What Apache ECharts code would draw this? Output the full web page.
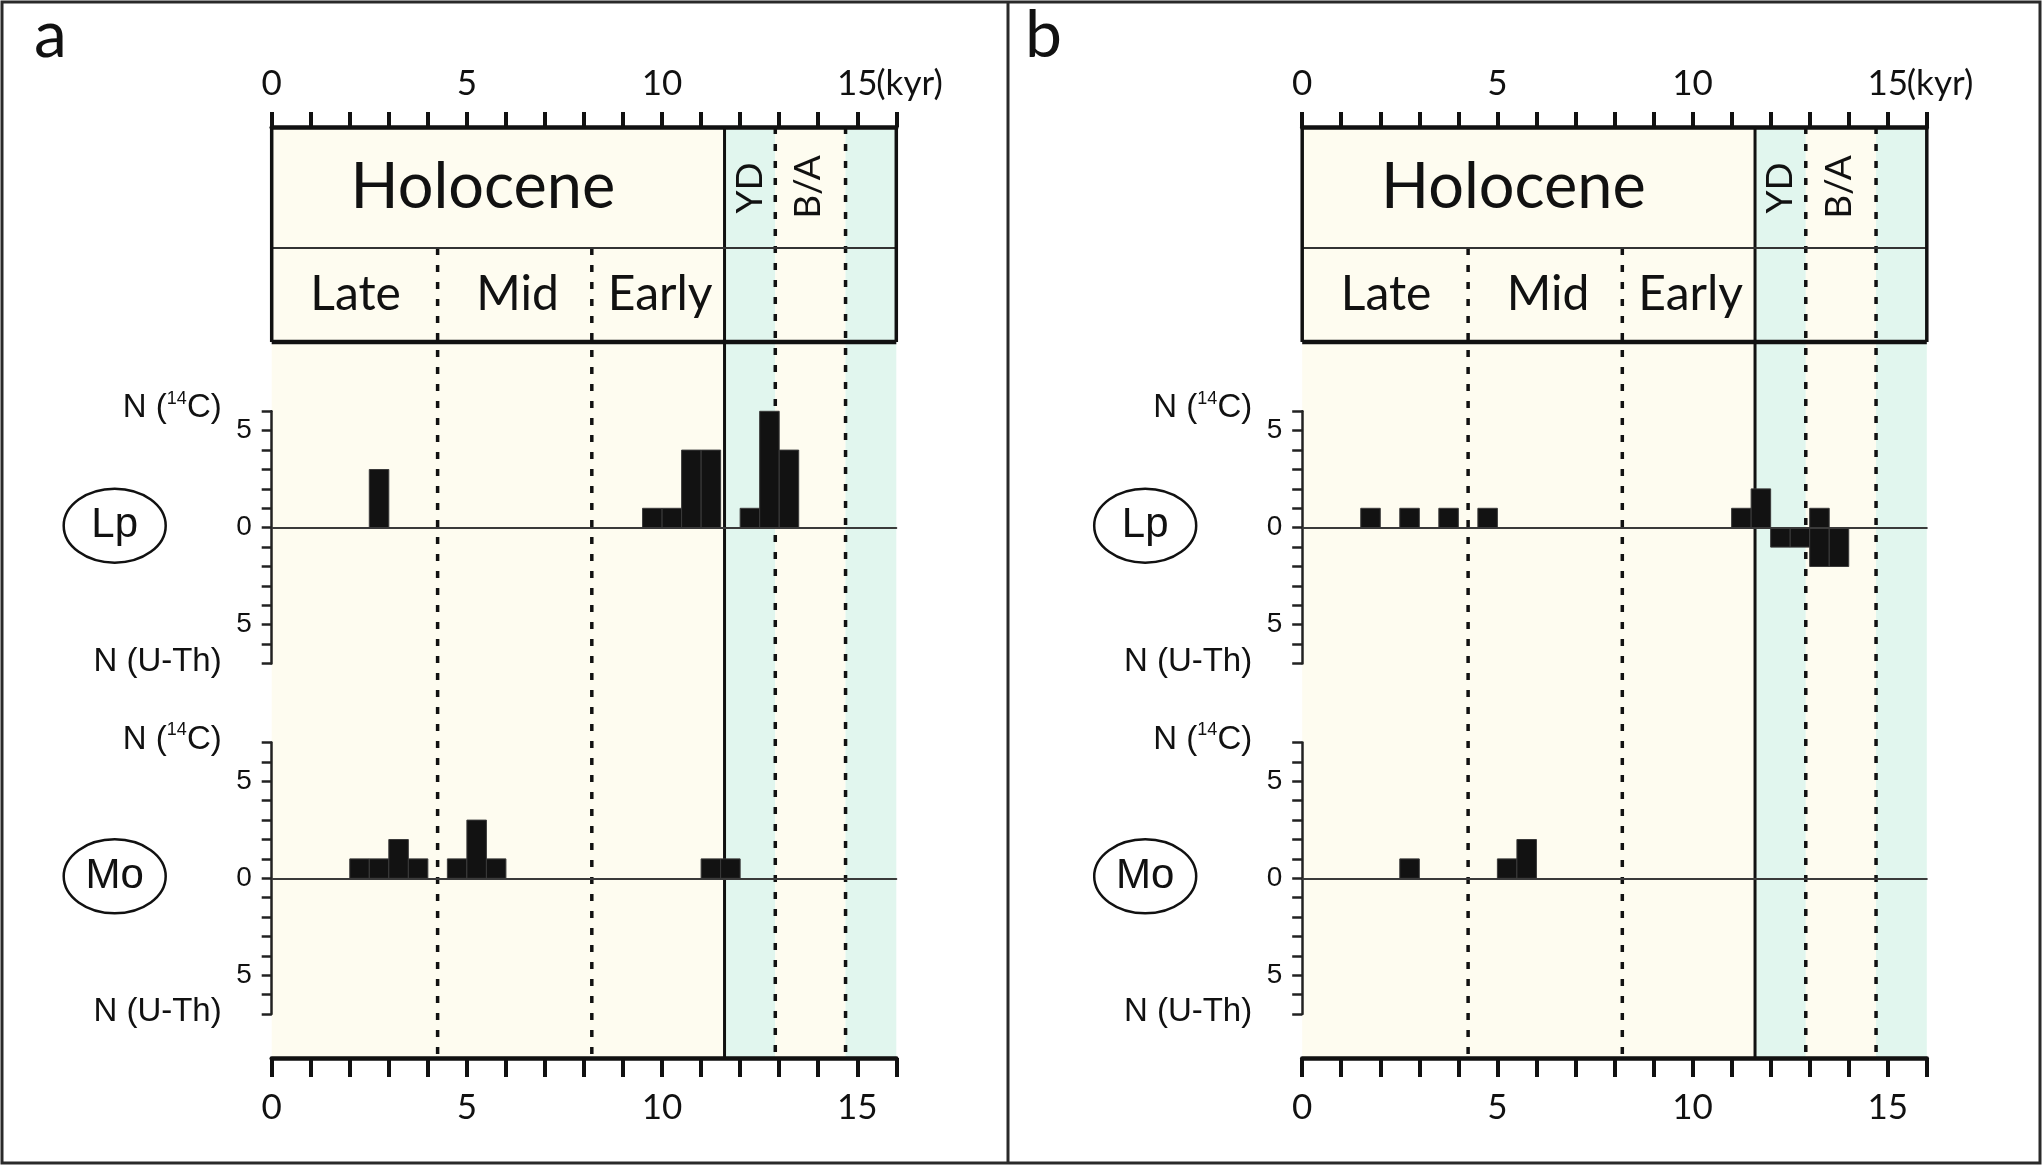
<!DOCTYPE html>
<html>
<head>
<meta charset="utf-8">
<script src="https://cdn.jsdelivr.net/npm/echarts@6/dist/echarts.min.js"></script>
<style>
  html, body { margin: 0; padding: 0; background: #fff; }
  #chart { width: 2044px; height: 1167px; }
</style>
</head>
<body>
<div id="chart"></div>
<script>
// time axis (kyr) and period boundaries
const kyrLabels = [0, 5, 10, 15]
const periodEdges = [0, 11.6, 12.9, 14.7, 16]
const periodKinds = ['cream', 'mint', 'cream', 'mint']
const subBoundaries = [4.25, 8.2]
const subLabels = ['Late', 'Mid', 'Early']
const subLabelAt = [2.15, 6.3, 9.95]
const binWidth = 0.5

// panel a : 0.5 kyr bins (bin start) and counts
const aLpC14Start = [2.5, 9.5, 10, 10.5, 11, 12, 12.5, 13]
const aLpC14Count = [3, 1, 1, 4, 4, 1, 6, 4]
const aLpUThStart = []
const aLpUThCount = []
const aMoC14Start = [2, 2.5, 3, 3.5, 4.5, 5, 5.5, 11, 11.5]
const aMoC14Count = [1, 1, 2, 1, 1, 3, 1, 1, 1]
const aMoUThStart = []
const aMoUThCount = []

// panel b
const bLpC14Start = [1.5, 2.5, 3.5, 4.5, 11, 11.5, 13]
const bLpC14Count = [1, 1, 1, 1, 1, 2, 1]
const bLpUThStart = [12, 12.5, 13, 13.5]
const bLpUThCount = [1, 1, 2, 2]
const bMoC14Start = [2.5, 5, 5.5]
const bMoC14Count = [1, 1, 2]
const bMoUThStart = []
const bMoUThCount = []

// y ranges of the two site rows
const siteNames = ['Lp', 'Mo']
const siteMin = [-7, -7]
const siteMax = [6, 7]

// layout
const PANEL_X = [271.7, 1302.2]
const PLOT_W = 624.6
const TOP_Y = 127
const FRAME_H = 931
const HEAD_SPLIT = 121
const HEAD_BOTTOM = 215
const ROW_TOP = [411.3, 742.5]
const UNIT = 19.4

const CREAM = '#fefcf0'
const MINT = '#e1f6ee'
const INK = '#111'
const HEAD_FONT = 'Lato, "Open Sans", sans-serif'
const AX_FONT = '"Liberation Sans", Arial, sans-serif'

const panels = [
  { letter: 'a', data: [[aLpC14Start, aLpC14Count, aLpUThStart, aLpUThCount], [aMoC14Start, aMoC14Count, aMoUThStart, aMoUThCount]] },
  { letter: 'b', data: [[bLpC14Start, bLpC14Count, bLpUThStart, bLpUThCount], [bMoC14Start, bMoC14Count, bMoUThStart, bMoUThCount]] }
]

function barItem(params, api) {
  const s = api.value(0), v = api.value(1)
  const p0 = api.coord([s, 0])
  const p1 = api.coord([s + binWidth, v])
  return {
    type: 'rect',
    shape: { x: p0[0], y: Math.min(p0[1], p1[1]), width: p1[0] - p0[0], height: Math.abs(p1[1] - p0[1]) },
    style: { fill: '#121212', stroke: '#3a3a3a', lineWidth: 1 }
  }
}

function bandItem(params, api) {
  const p0 = api.coord([api.value(0), 0])
  const p1 = api.coord([api.value(1), FRAME_H])
  return {
    type: 'rect',
    shape: { x: p0[0], y: p0[1], width: p1[0] - p0[0], height: p1[1] - p0[1] },
    style: { fill: periodKinds[params.dataIndex] === 'mint' ? MINT : CREAM }
  }
}

function boundaryItem(params, api) {
  const x = api.value(0), y0 = api.value(1), dashed = api.value(2)
  const p0 = api.coord([x, y0])
  const p1 = api.coord([x, FRAME_H])
  return {
    type: 'line',
    shape: { x1: p0[0], y1: p0[1], x2: p1[0], y2: p1[1] },
    style: dashed ? { stroke: INK, lineWidth: 3.5, lineDash: [7, 10] } : { stroke: INK, lineWidth: 3 }
  }
}

function hline(api, x0, x1, y, w, c) {
  const p0 = api.coord([x0, y]), p1 = api.coord([x1, y])
  return { type: 'line', shape: { x1: p0[0], y1: p0[1], x2: p1[0], y2: p1[1] }, style: { stroke: c, lineWidth: w } }
}
function vline(api, x, y0, y1, w, c) {
  const p0 = api.coord([x, y0]), p1 = api.coord([x, y1])
  return { type: 'line', shape: { x1: p0[0], y1: p0[1], x2: p1[0], y2: p1[1] }, style: { stroke: c, lineWidth: w } }
}
function label(api, text, x, y, size, rot) {
  const p = api.coord([x, y])
  return {
    type: 'text', x: p[0], y: p[1], rotation: rot || 0,
    style: { text: text, x: 0, y: 0, align: 'center', verticalAlign: 'middle', fill: INK, font: size + 'px ' + HEAD_FONT }
  }
}

function headerItem(params, api) {
  const kids = [
    hline(api, 0, 16, HEAD_SPLIT, 2, '#333'),
    hline(api, 0, 16, HEAD_BOTTOM, 4.5, INK),
    vline(api, 0, 0, HEAD_BOTTOM, 3.5, INK),
    vline(api, 16, 0, HEAD_BOTTOM, 3.5, INK),
    label(api, 'Holocene', 5.41, HEAD_SPLIT / 2, 63),
    label(api, 'YD', (periodEdges[1] + periodEdges[2]) / 2, 61, 37, Math.PI / 2),
    label(api, 'B/A', (periodEdges[2] + periodEdges[3]) / 2 - 0.05, 60, 37, Math.PI / 2)
  ]
  subLabels.forEach((t, i) => kids.push(label(api, t, subLabelAt[i], (HEAD_SPLIT + HEAD_BOTTOM) / 2, 48)))
  return { type: 'group', children: kids }
}

const grid = [], xAxis = [], yAxis = [], series = [], graphic = []

panels.forEach((panel, pi) => {
  const left = PANEL_X[pi]
  const gMain = grid.length
  grid.push({ left: left, top: TOP_Y, width: PLOT_W, height: FRAME_H, outerBoundsMode: 'none' })
  const xTop = xAxis.length
  xAxis.push({
    gridIndex: gMain, type: 'value', min: 0, max: 16, interval: 1, position: 'top', z: 6,
    axisLine: { onZero: false, lineStyle: { color: INK, width: 4.5 } },
    axisTick: { length: 15, lineStyle: { color: INK, width: 4 } },
    axisLabel: { margin: 26, fontFamily: HEAD_FONT, fontSize: 35, color: INK, formatter: v => kyrLabels.includes(v) ? String(v) : '' },
    splitLine: { show: false }
  })
  xAxis.push({
    gridIndex: gMain, type: 'value', min: 0, max: 16, interval: 1, position: 'bottom', z: 6,
    axisLine: { onZero: false, lineStyle: { color: INK, width: 4.5 } },
    axisTick: { length: 19, lineStyle: { color: INK, width: 4 } },
    axisLabel: { margin: 32, fontFamily: HEAD_FONT, fontSize: 35, color: INK, formatter: v => kyrLabels.includes(v) ? String(v) : '' },
    splitLine: { show: false }
  })
  const yMain = yAxis.length
  yAxis.push({ gridIndex: gMain, type: 'value', min: 0, max: FRAME_H, inverse: true, show: false })

  series.push({
    type: 'custom', xAxisIndex: xTop, yAxisIndex: yMain, z: 1, silent: true,
    renderItem: bandItem, encode: { x: [0, 1] },
    data: periodKinds.map((k, i) => [periodEdges[i], periodEdges[i + 1]])
  })
  series.push({
    type: 'custom', xAxisIndex: xTop, yAxisIndex: yMain, z: 2, silent: true,
    renderItem: boundaryItem, encode: { x: 0 },
    data: [[periodEdges[1], 0, 0], [periodEdges[2], 0, 1], [periodEdges[3], 0, 1]]
      .concat(subBoundaries.map(b => [b, HEAD_SPLIT, 1]))
  })
  series.push({
    type: 'custom', xAxisIndex: xTop, yAxisIndex: yMain, z: 3, silent: true,
    renderItem: headerItem, encode: { x: 0 }, data: [[0]]
  })

  siteNames.forEach((site, si) => {
    const g = grid.length
    const h = (siteMax[si] - siteMin[si]) * UNIT
    grid.push({ left: left, top: ROW_TOP[si], width: PLOT_W, height: h, outerBoundsMode: 'none' })
    const xi = xAxis.length
    xAxis.push({
      gridIndex: g, type: 'value', min: 0, max: 16, z: 6,
      axisLine: { onZero: true, lineStyle: { color: '#3a3a3a', width: 2 } },
      axisTick: { show: false }, axisLabel: { show: false }, splitLine: { show: false }
    })
    const yi = yAxis.length
    yAxis.push({
      gridIndex: g, type: 'value', min: siteMin[si], max: siteMax[si], interval: 1, z: 6,
      axisLine: { show: true, lineStyle: { color: '#222', width: 2.5 } },
      axisTick: { show: true, inside: false, length: 10, lineStyle: { color: '#222', width: 2.5 } },
      axisLabel: {
        margin: 20, fontFamily: AX_FONT, fontSize: 28, color: INK,
        formatter: v => (v === 5 || v === -5) ? '5' : (v === 0 ? '0' : '')
      },
      splitLine: { show: false }
    })
    const d = panel.data[si]
    series.push({
      type: 'custom', name: site + ' 14C', xAxisIndex: xi, yAxisIndex: yi, z: 4,
      renderItem: barItem, encode: { x: 0, y: 1 },
      data: d[0].map((s, i) => [s, d[1][i]])
    })
    series.push({
      type: 'custom', name: site + ' U-Th', xAxisIndex: xi, yAxisIndex: yi, z: 4,
      renderItem: barItem, encode: { x: 0, y: 1 },
      data: d[2].map((s, i) => [s, -d[3][i]])
    })

    // side annotations of the row
    const top = ROW_TOP[si]
    const zeroY = top + siteMax[si] * UNIT
    graphic.push({
      type: 'text', x: left - 50, y: top - 3,
      style: {
        text: 'N ({s|14}C)', align: 'right', verticalAlign: 'middle', fill: INK,
        font: '33px ' + AX_FONT, lineHeight: 36,
        rich: { s: { fontSize: 18, fontFamily: AX_FONT, verticalAlign: 'top', lineHeight: 19, fill: INK } }
      }
    })
    graphic.push({
      type: 'text', x: left - 50, y: top + h - 2,
      style: { text: 'N (U-Th)', align: 'right', verticalAlign: 'middle', fill: INK, font: '33px ' + AX_FONT }
    })
    graphic.push({
      type: 'ellipse', shape: { cx: left - 157, cy: zeroY - 2, rx: 51, ry: 37 },
      style: { fill: 'none', stroke: INK, lineWidth: 2.5 }
    })
    graphic.push({
      type: 'text', x: left - 157, y: zeroY - 2,
      style: { text: site, align: 'center', verticalAlign: 'middle', fill: INK, font: '42px ' + AX_FONT }
    })
  })

  graphic.push({
    type: 'text', x: left + 15 * PLOT_W / 16 + 19, y: 84,
    style: { text: '(kyr)', align: 'left', verticalAlign: 'middle', fill: INK, font: '35px ' + HEAD_FONT }
  })
  graphic.push({
    type: 'text', x: pi === 0 ? 34 : 1025, y: 36,
    style: { text: panel.letter, align: 'left', verticalAlign: 'middle', fill: INK, font: '66px ' + HEAD_FONT }
  })
})

graphic.push({
  type: 'rect', shape: { x: 2, y: 2, width: 2038, height: 1161 },
  style: { fill: 'none', stroke: '#2a2a2a', lineWidth: 3 }
})
graphic.push({
  type: 'line', shape: { x1: 1008, y1: 2, x2: 1008, y2: 1163 },
  style: { stroke: '#2a2a2a', lineWidth: 3 }
})

const chart = echarts.init(document.getElementById('chart'), null, { renderer: 'canvas' })
chart.setOption({
  backgroundColor: '#fff',
  animation: false,
  grid: grid,
  xAxis: xAxis,
  yAxis: yAxis,
  series: series,
  graphic: { elements: graphic }
})
</script>
</body>
</html>
